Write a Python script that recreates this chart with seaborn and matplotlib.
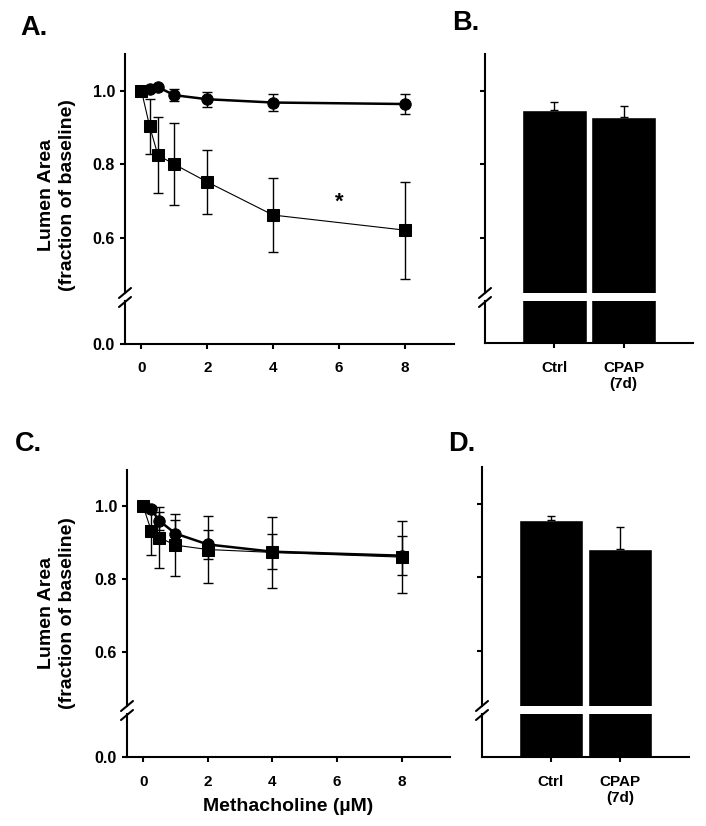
"""Lumen area vs methacholine (A, C) and baseline bars (B, D) with broken y axes."""

import matplotlib
matplotlib.use("Agg")
import matplotlib.pyplot as plt
from matplotlib.lines import Line2D
import numpy as np
import seaborn as sns

# ---- data ----
dose = [0, 0.25, 0.5, 1, 2, 4, 8]

a_circle = [1.0, 1.005, 1.01, 0.988, 0.977, 0.968, 0.964]
a_circle_err = [0, 0.004, 0.005, 0.016, 0.020, 0.024, 0.027]
a_square = [1.0, 0.903, 0.825, 0.800, 0.752, 0.662, 0.621]
a_square_err = [0, 0.074, 0.103, 0.112, 0.086, 0.100, 0.132]

c_circle = [1.0, 0.992, 0.960, 0.925, 0.895, 0.875, 0.864]
c_circle_err = [0, 0.010, 0.025, 0.037, 0.039, 0.049, 0.053]
c_square = [1.0, 0.933, 0.914, 0.893, 0.881, 0.873, 0.860]
c_square_err = [0, 0.068, 0.084, 0.086, 0.092, 0.098, 0.100]

groups = ["Ctrl", "CPAP\n(7d)"]
b_vals = [0.948, 0.929]
b_err = [0.022, 0.029]
d_vals = [0.957, 0.877]
d_err = [0.009, 0.060]

W, H = 706, 826

sns.set_theme(style="ticks")
plt.rcParams.update({
    "font.family": ["Liberation Sans", "DejaVu Sans"],
    "font.weight": "bold",
    "axes.labelweight": "bold",
    "axes.linewidth": 1.5,
    "xtick.major.width": 1.5,
    "ytick.major.width": 1.5,
    "xtick.major.size": 3.6,
    "ytick.major.size": 3.6,
    "xtick.color": "black",
    "ytick.color": "black",
    "xtick.labelcolor": "black",
    "ytick.labelcolor": "black",
    "text.color": "black",
    "axes.labelcolor": "black",
    "axes.edgecolor": "black",
})

fig = plt.figure(figsize=(W / 100, H / 100), dpi=100)


def rect(left, top, right, bottom):
    return [left / W, 1 - bottom / H, (right - left) / W, (bottom - top) / H]


def broken_axes(box_up, box_low):
    up = fig.add_axes(rect(*box_up))
    low = fig.add_axes(rect(*box_low), sharex=up)
    for s in ("top", "right", "bottom"):
        up.spines[s].set_visible(False)
    for s in ("top", "right"):
        low.spines[s].set_visible(False)
    up.tick_params(axis="x", bottom=False, labelbottom=False)
    up.set_ylim(0.45, 1.1)
    low.set_ylim(0, 0.1)
    # break marks on the y spine
    x0 = box_up[0]
    for yc in (box_up[3], box_low[1] + 1):
        fig.add_artist(Line2D([(x0 - 6) / W, (x0 + 6) / W],
                              [1 - (yc + 5) / H, 1 - (yc - 5) / H],
                              color="black", lw=1.5))
    return up, low


def dose_panel(box_up, box_low, circ, circ_err, sq, sq_err):
    up, low = broken_axes(box_up, box_low)
    up.errorbar(dose, sq, yerr=sq_err, fmt="none", ecolor="black",
                elinewidth=1, capsize=3.6, capthick=1)
    up.errorbar(dose, circ, yerr=circ_err, fmt="none", ecolor="black",
                elinewidth=1, capsize=3.6, capthick=1)
    sns.lineplot(x=dose, y=sq, ax=up, color="black", lw=0.8, marker="s",
                 markersize=9, markeredgecolor="black", errorbar=None)
    sns.lineplot(x=dose, y=circ, ax=up, color="black", lw=1.8, marker="o",
                 markersize=8.2, markeredgecolor="black", errorbar=None)
    up.set_xlim(-0.5, 9.5)
    up.set_yticks([0.6, 0.8, 1.0])
    up.set_yticklabels(["0.6", "0.8", "1.0"])
    low.set_yticks([0.0])
    low.set_yticklabels(["0.0"])
    low.set_xticks([0, 2, 4, 6, 8])
    for ax in (up, low):
        ax.tick_params(axis="y", labelsize=11.5, pad=3.6)
        ax.set_ylabel("")
    low.tick_params(axis="x", labelsize=11, pad=9)
    return up, low


def bar_panel(box_up, box_low, vals, err):
    up, low = broken_axes(box_up, box_low)
    for ax in (up, low):
        sns.barplot(x=groups, y=vals, ax=ax, color="black", saturation=1,
                    width=0.93, errorbar=None)
        ax.set_xlim(-1, 2)
        ax.set_ylabel("")
    up.errorbar([0, 1], vals, yerr=[[0, 0], err], fmt="none", ecolor="black",
                elinewidth=1, capsize=2.9, capthick=1)
    up.set_yticks([0.6, 0.8, 1.0])
    up.tick_params(axis="y", labelleft=False)
    low.set_yticks([])
    low.tick_params(axis="x", labelsize=11, pad=9)
    low.set_xticks([0, 1])
    low.set_xticklabels(groups)
    up.tick_params(axis="x", bottom=False, labelbottom=False)
    up.set_xlabel("")
    low.set_xlabel("")
    return up, low


a_up, a_low = dose_panel((125, 54, 454, 293), (125, 301, 454, 344),
                         a_circle, a_circle_err, a_square, a_square_err)
a_up.text(6, 0.698, "*", fontsize=16, ha="center", va="center")

bar_panel((485, 54, 693, 293), (485, 301, 693, 343), b_vals, b_err)

c_up, c_low = dose_panel((127, 470, 450, 706), (127, 714, 450, 757),
                         c_circle, c_circle_err, c_square, c_square_err)
c_low.set_xlabel("Methacholine (\u00b5M)", fontsize=14, labelpad=7)

bar_panel((482, 467, 689, 706), (482, 714, 689, 757), d_vals, d_err)

# y labels and panel letters
for yc in (195, 613):
    fig.text(57 / W, 1 - yc / H, "Lumen Area\n(fraction of baseline)",
             rotation=90, ha="center", va="center", fontsize=14,
             linespacing=1.25, multialignment="center")

for letter, x, y in (("A.", 20, 28), ("B.", 452, 23), ("C.", 15, 444), ("D.", 448, 444)):
    fig.text(x / W, 1 - y / H, letter, fontsize=19.5, ha="left", va="center")

fig.savefig("out.png", dpi=100)
